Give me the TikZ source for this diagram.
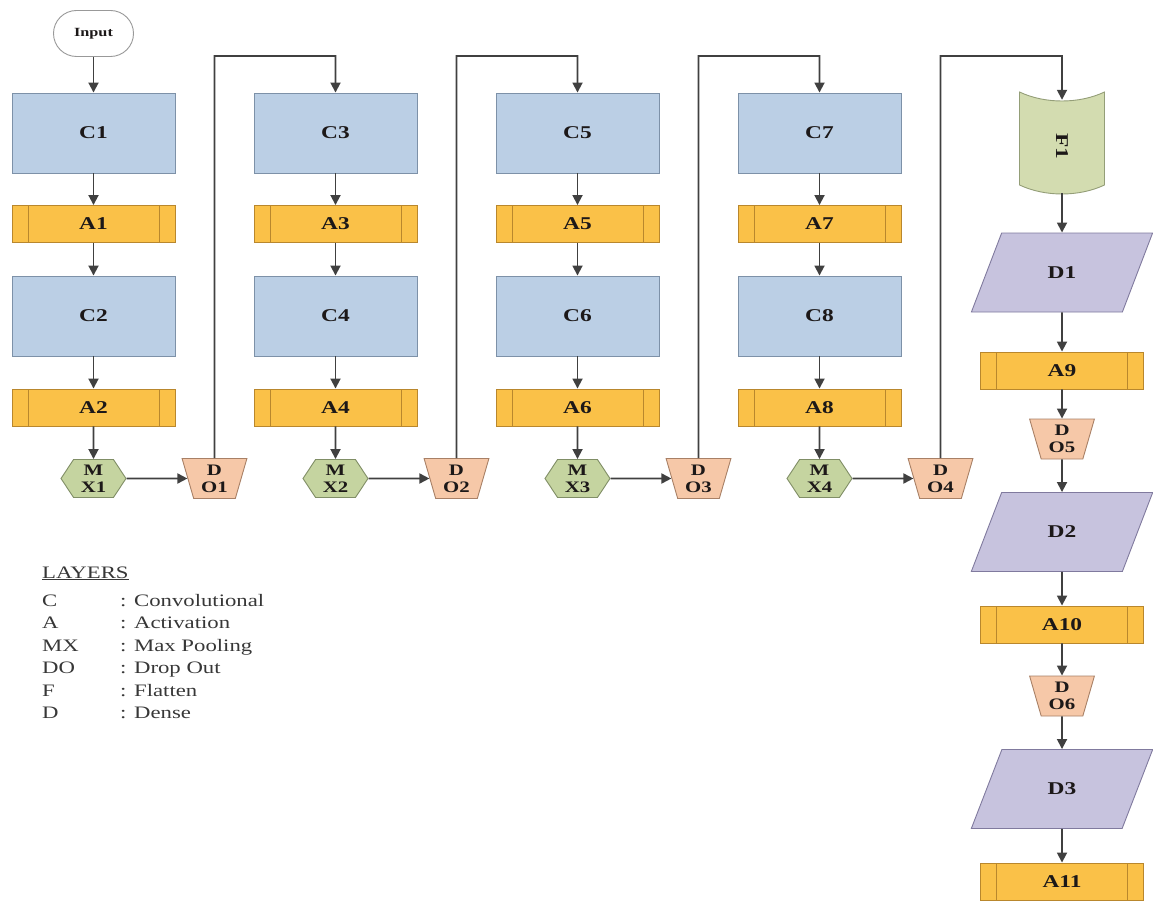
\documentclass[tikz,border=0pt]{standalone}
\usepackage{fontspec}
\setmainfont{Liberation Serif}[FakeStretch=1.3]
\usetikzlibrary{shapes.geometric,shapes.symbols,arrows.meta}
\definecolor{cfill}{RGB}{187,207,229}
\definecolor{cdraw}{RGB}{125,145,168}
\definecolor{afill}{RGB}{250,193,72}
\definecolor{adraw}{RGB}{185,135,45}
\definecolor{mxfill}{RGB}{197,212,160}
\definecolor{mxdraw}{RGB}{128,142,102}
\definecolor{dofill}{RGB}{246,200,168}
\definecolor{dodraw}{RGB}{168,128,102}
\definecolor{ffill}{RGB}{211,220,176}
\definecolor{fdraw}{RGB}{148,158,120}
\definecolor{dfill}{RGB}{199,195,222}
\definecolor{ddraw}{RGB}{128,122,158}
\definecolor{lc}{RGB}{64,64,64}
\definecolor{tc}{RGB}{28,24,24}
\definecolor{legc}{RGB}{55,55,55}
\begin{document}
\begin{tikzpicture}[x=1pt,y=-1pt,
  lbl/.style={font=\fontsize{18}{20}\selectfont\bfseries, text=tc},
  small/.style={font=\fontsize{16}{17}\selectfont\bfseries, text=tc, align=center},
  convbox/.style={lbl, rectangle, draw=cdraw, fill=cfill, line width=0.9pt,
    minimum width=163pt, minimum height=80pt, inner sep=0pt},
  actbox/.style={lbl, rectangle, draw=adraw, fill=afill, line width=0.9pt,
    minimum width=163pt, minimum height=37pt, inner sep=0pt,
    path picture={\draw[adraw, line width=0.9pt]
      ([xshift=16pt]path picture bounding box.north west) -- ([xshift=16pt]path picture bounding box.south west)
      ([xshift=-16pt]path picture bounding box.north east) -- ([xshift=-16pt]path picture bounding box.south east);}},
  poolbox/.style={small, signal, signal to=east and west, signal pointer angle=113,
    draw=mxdraw, fill=mxfill, line width=0.9pt, minimum width=65pt, minimum height=38pt, inner sep=0pt},
  dropbox/.style={small, trapezium, trapezium left angle=75, trapezium right angle=75,
    shape border rotate=180, trapezium stretches=true, draw=dodraw, fill=dofill, line width=0.9pt,
    minimum width=65pt, minimum height=40pt, inner sep=0pt},
  densebox/.style={lbl, trapezium, trapezium left angle=59, trapezium right angle=121,
    trapezium stretches=true, draw=ddraw, fill=dfill, line width=0.9pt,
    minimum width=182pt, minimum height=79pt, inner sep=0pt},
  flatbox/.style={draw=fdraw, fill=ffill, line width=0.9pt},
  inbox/.style={rectangle, rounded corners=23pt, draw=gray!80, fill=white, line width=0.9pt,
    minimum width=80pt, minimum height=46pt, font=\fontsize{12.5}{14}\selectfont\bfseries, text=tc},
  arr/.style={draw=lc, line width=1.8pt, -{Triangle[length=10pt,width=10pt]}},
  leg/.style={font=\fontsize{17.5}{20}\selectfont, text=legc, inner sep=0pt, anchor=base west}
]
\useasboundingbox (0,0) rectangle (1153,904);

\coordinate (top) at (0,56);

% Input
\node[inbox] (in) at (93.5,33.5) {Input};

\node[convbox] (c1) at (93.5,133) {C1};
\node[actbox]  (a1) at (93.5,224) {A1};
\node[convbox] (c2) at (93.5,316) {C2};
\node[actbox]  (a2) at (93.5,407.5) {A2};
\node[poolbox] (mx1) at (93.5,478.5) {M\\X1};
\node[dropbox] (do1) at (214.5,478.5) {D\\O1};

\node[convbox] (c3) at (335.5,133) {C3};
\node[actbox]  (a3) at (335.5,224) {A3};
\node[convbox] (c4) at (335.5,316) {C4};
\node[actbox]  (a4) at (335.5,407.5) {A4};
\node[poolbox] (mx2) at (335.5,478.5) {M\\X2};
\node[dropbox] (do2) at (456.5,478.5) {D\\O2};

\node[convbox] (c5) at (577.5,133) {C5};
\node[actbox]  (a5) at (577.5,224) {A5};
\node[convbox] (c6) at (577.5,316) {C6};
\node[actbox]  (a6) at (577.5,407.5) {A6};
\node[poolbox] (mx3) at (577.5,478.5) {M\\X3};
\node[dropbox] (do3) at (698.5,478.5) {D\\O3};

\node[convbox] (c7) at (819.5,133) {C7};
\node[actbox]  (a7) at (819.5,224) {A7};
\node[convbox] (c8) at (819.5,316) {C8};
\node[actbox]  (a8) at (819.5,407.5) {A8};
\node[poolbox] (mx4) at (819.5,478.5) {M\\X4};
\node[dropbox] (do4) at (940.5,478.5) {D\\O4};

% Flatten
\path[flatbox] (1019.5,92) .. controls (1045,104) and (1079,104) .. (1104.5,92)
  -- (1104.5,185) .. controls (1079,197) and (1045,197) .. (1019.5,185) -- cycle;
\node[lbl, minimum width=85pt, minimum height=93pt, inner sep=0pt] (f1) at (1062,146.5) {\rotatebox{-90}{F1}};

% right column
\node[densebox] (d1) at (1062,272.5) {D1};
\node[actbox]   (a9) at (1062,370.5) {A9};
\node[dropbox]  (do5) at (1062,439) {D\\O5};
\node[densebox] (d2) at (1062,532) {D2};
\node[actbox]   (a10) at (1062,624.5) {A10};
\node[dropbox]  (do6) at (1062,696) {D\\O6};
\node[densebox] (d3) at (1062,789) {D3};
\node[actbox]   (a11) at (1062,881.5) {A11};

% connectors
\draw[arr] (in) -- (c1);
\foreach \p/\q in {c1/a1,a1/c2,c2/a2,a2/mx1,mx1/do1,
                   c3/a3,a3/c4,c4/a4,a4/mx2,mx2/do2,
                   c5/a5,a5/c6,c6/a6,a6/mx3,mx3/do3,
                   c7/a7,a7/c8,c8/a8,a8/mx4,mx4/do4,
                   d1/a9,a9/do5,do5/d2,d2/a10,a10/do6,do6/d3,d3/a11}
  \draw[arr] (\p) -- (\q);
\draw[arr] (f1.south) -- (d1);
\draw[arr] (do1) -- (do1 |- top) -| (c3.north);
\draw[arr] (do2) -- (do2 |- top) -| (c5.north);
\draw[arr] (do3) -- (do3 |- top) -| (c7.north);
\draw[arr] (do4) -- (do4 |- top) -| (f1.north);

% legend
\node[leg] (lt) at (42,578) {\underline{LAYERS}};
\node[leg] (k1) at (42,606) {C};
\node[leg] (k2) at (42,628.5) {A};
\node[leg] (k3) at (42,651) {MX};
\node[leg] (k4) at (42,673.5) {DO};
\node[leg] (k5) at (42,696) {F};
\node[leg] (k6) at (42,718.5) {D};
\node[leg] (v1) at (120,606) {: Convolutional};
\node[leg] (v2) at (120,628.5) {: Activation};
\node[leg] (v3) at (120,651) {: Max Pooling};
\node[leg] (v4) at (120,673.5) {: Drop Out};
\node[leg] (v5) at (120,696) {: Flatten};
\node[leg] (v6) at (120,718.5) {: Dense};
\end{tikzpicture}
\end{document}
